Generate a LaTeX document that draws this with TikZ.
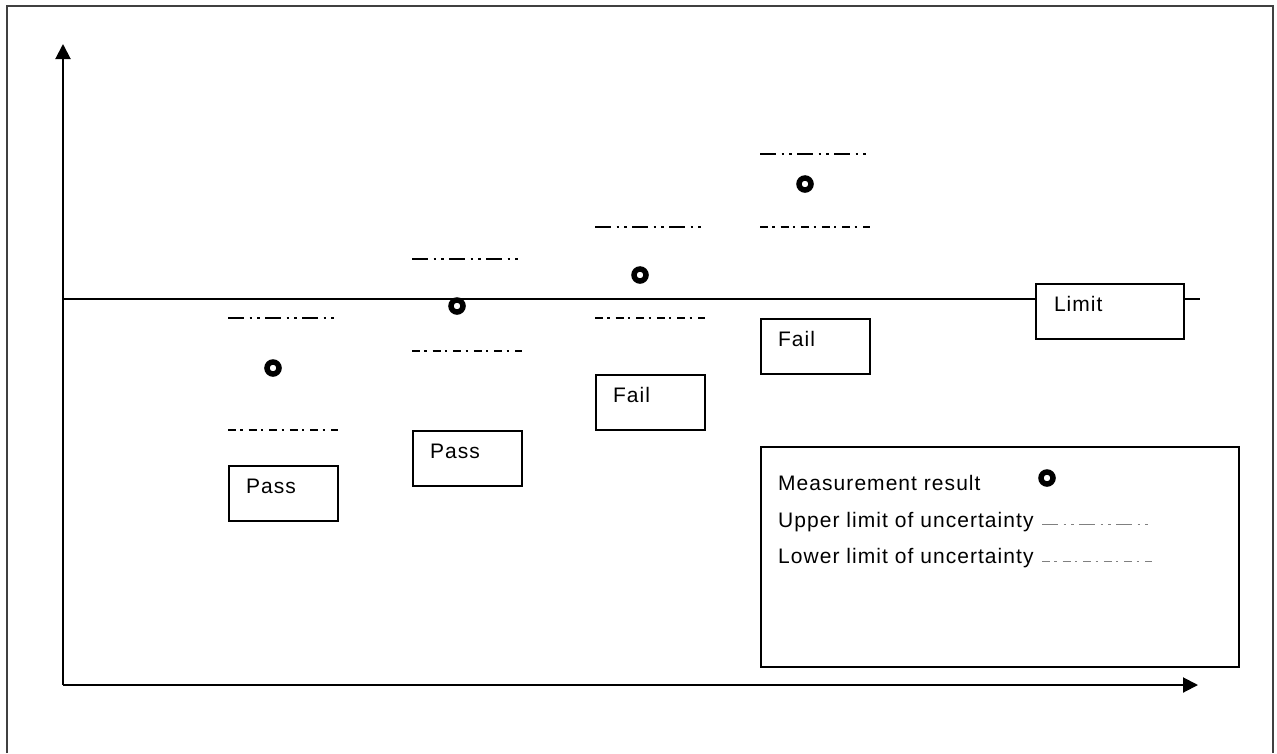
\documentclass[tikz,border=0pt]{standalone}
\usepackage{fontspec}
\setmainfont{Liberation Sans}[LetterSpace=5]
\usetikzlibrary{arrows.meta, positioning}
\tikzset{
frame/.style={line width=2.5pt, black!75},
axis/.style={line width=2pt, -{Triangle[width=15pt,length=15pt]}},
limitline/.style={line width=2pt},
boxed/.style={draw, line width=2pt, align=left, text height=15pt, text depth=15pt, anchor=north west, font=\fontsize{21}{24}\selectfont},
verdict/.style={boxed, minimum width=109pt, minimum height=55pt, text width=75pt, inner xsep=17pt},
result/.style={circle, draw, fill=white, line width=5.5pt, minimum size=12pt, inner sep=0pt},
upperu/.style={line width=2pt, dash pattern=on 16pt off 5.5pt on 2.5pt off 5pt on 2.5pt off 5.5pt},
loweru/.style={line width=2pt, dash pattern=on 8pt off 4.3pt on 2.3pt off 6pt},
legline/.style={line width=1pt, gray},
legtext/.style={anchor=base west, inner sep=0pt, font=\fontsize{21}{24}\selectfont}
}

\begin{document}
\begin{tikzpicture}[x=1pt, y=-1pt]
	\useasboundingbox (0,0) rectangle (1277,753);
	\draw[frame] (7,753) -- (7,6) -- (1273,6) -- (1273,753);
	% axes
	\coordinate (O) at (63,685);
	\coordinate (ytop) at (63,44);
	\coordinate (xend) at (1198,685);
	\draw[axis] (O) -- (ytop);
	\draw[axis] (O) -- (xend);
	% limit
	\node[boxed, minimum width=148pt, minimum height=55pt, text width=112pt, inner xsep=18pt] (lim) at (1035,283) {Limit};
	\coordinate (L0) at (63,299);
	\coordinate (L1) at (1200,299);
	\draw[limitline] (L0) -- (L0 -| lim.west);
	\draw[limitline] (L1 -| lim.east) -- (L1);
	% ----
	\coordinate (u1) at (228,318);
	\coordinate (d1) at (228,430);
	\draw[upperu] (u1) -- ++(110,0);
	\draw[loweru] (d1) -- ++(110,0);
	\node[result] (m1) at (273,368) {};
	\node[verdict] (p1) at (228,465) {Pass};

	\coordinate (u2) at (412,259);
	\coordinate (d2) at (412,351);
	\draw[upperu] (u2) -- ++(110,0);
	\draw[loweru] (d2) -- ++(110,0);
	\node[result] (m2) at (457,306) {};
	\node[verdict] (p2) at (412,430) {Pass};

	\coordinate (u3) at (595,227);
	\coordinate (d3) at (595,318);
	\draw[upperu] (u3) -- ++(110,0);
	\draw[loweru] (d3) -- ++(110,0);
	\node[result] (m3) at (640,275) {};
	\node[verdict] (f3) at (595,374) {Fail};

	\coordinate (u4) at (760,154);
	\coordinate (d4) at (760,227);
	\draw[upperu] (u4) -- ++(110,0);
	\draw[loweru] (d4) -- ++(110,0);
	\node[result] (m4) at (805,184) {};
	\node[verdict] (f4) at (760,318) {Fail};
	% legend
	\node[draw, line width=2pt, anchor=north west, minimum width=478pt, minimum height=220pt] (key) at (760,446) {};
	\node[legtext] (kres) at (778,490) {Measurement result};
	\node[result] (kdot) at (1047,478) {};
	\node[legtext] (kup) at (778,527) {Upper limit of uncertainty};
	\node[legtext] (klo) at (778,563) {Lower limit of uncertainty};
	\coordinate (ku0) at (1042,524);
	\coordinate (ku1) at (1152,524);
	\coordinate (kl0) at (1042,561);
	\coordinate (kl1) at (1152,561);
	\draw[upperu, legline] (ku0) -- (ku1);
	\draw[loweru, legline] (kl0) -- (kl1);
\end{tikzpicture}
\end{document}
